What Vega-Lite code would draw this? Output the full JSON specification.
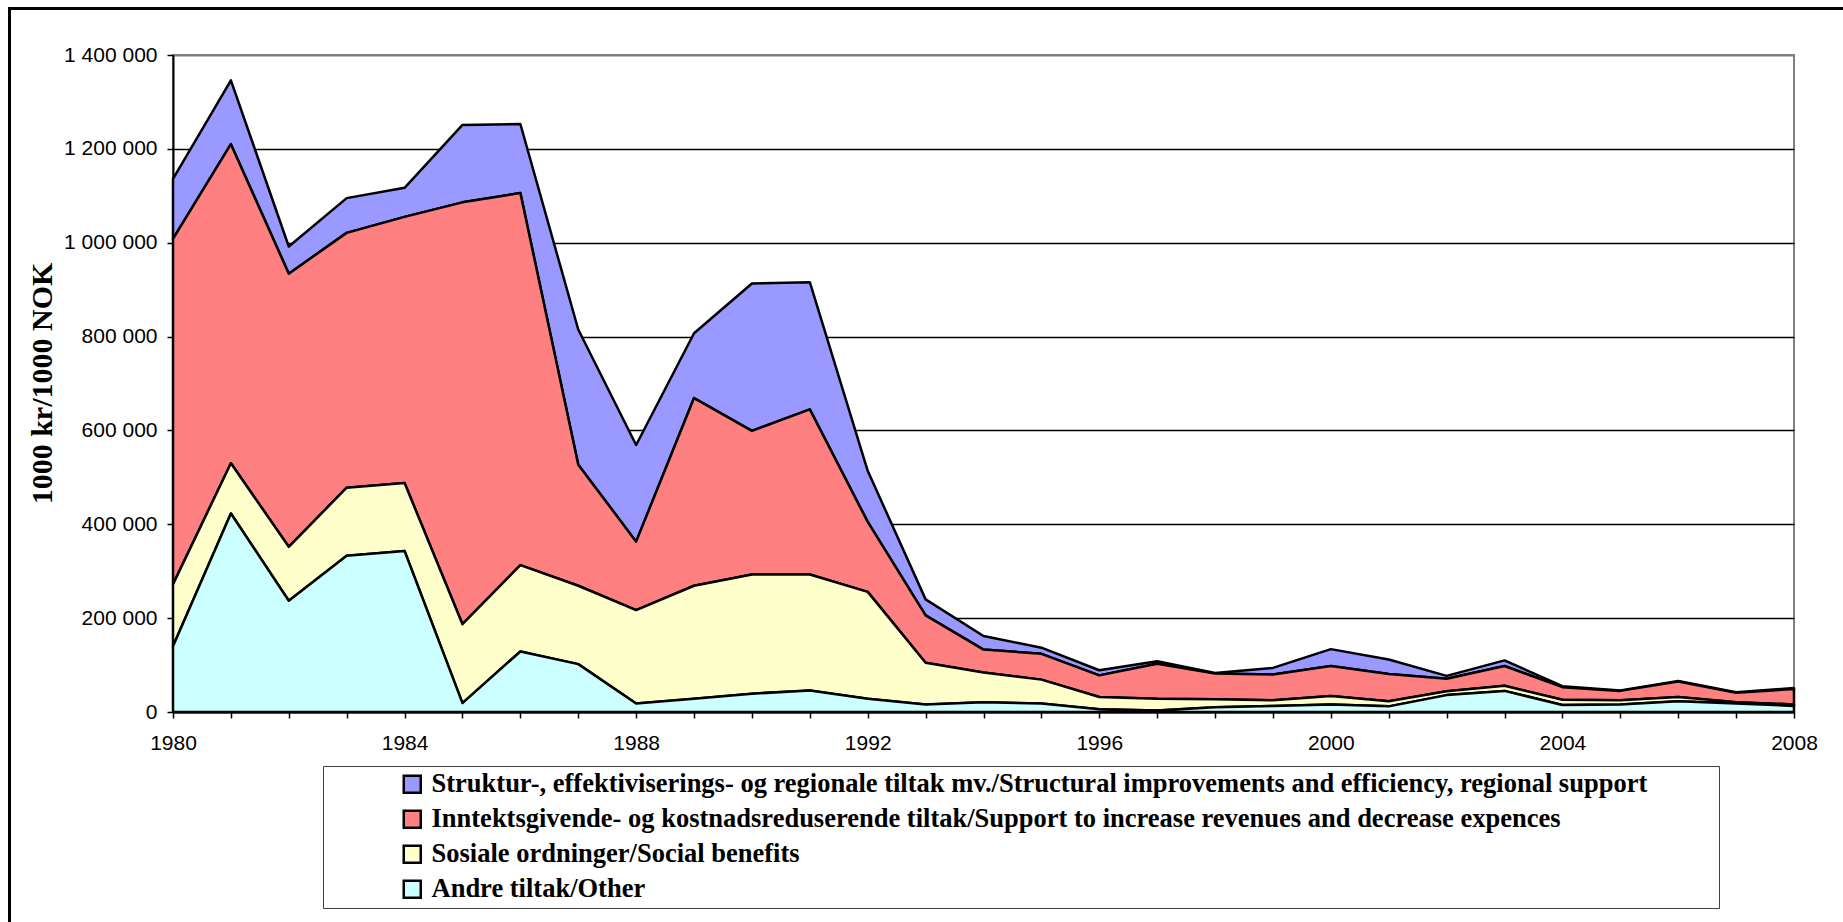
{
  "$schema": "https://vega.github.io/schema/vega-lite/v6.json",
  "width": 1621,
  "height": 657,
  "autosize": "none",
  "padding": {"left": 173, "top": 55, "right": 49, "bottom": 210},
  "background": "white",
  "config": {
    "locale": {"number": {"decimal": ",", "thousands": " ", "grouping": [3], "currency": ["", " kr"]}},
    "view": {"stroke": "#808080", "strokeWidth": 2},
    "axis": {
      "labelFont": "Liberation Sans",
      "labelFontSize": 21,
      "labelColor": "black",
      "domainColor": "black",
      "domainWidth": 2,
      "tickColor": "black",
      "tickWidth": 1.5,
      "tickSize": 6
    }
  },
  "data": {
    "values": [
      {"year": 1980, "other": 140000, "social": 132000, "income": 736000, "struct": 128000},
      {"year": 1981, "other": 423000, "social": 107000, "income": 680000, "struct": 136000},
      {"year": 1982, "other": 237000, "social": 115000, "income": 582000, "struct": 58000},
      {"year": 1983, "other": 333000, "social": 145000, "income": 543000, "struct": 74000},
      {"year": 1984, "other": 343000, "social": 145000, "income": 567000, "struct": 62000},
      {"year": 1985, "other": 19000, "social": 168000, "income": 899000, "struct": 165000},
      {"year": 1986, "other": 129000, "social": 184000, "income": 793000, "struct": 147000},
      {"year": 1987, "other": 102000, "social": 167000, "income": 258000, "struct": 288000},
      {"year": 1988, "other": 18000, "social": 199000, "income": 146000, "struct": 206000},
      {"year": 1989, "other": 28000, "social": 241000, "income": 400000, "struct": 138000},
      {"year": 1990, "other": 39000, "social": 254000, "income": 306000, "struct": 314000},
      {"year": 1991, "other": 46000, "social": 247000, "income": 352000, "struct": 271000},
      {"year": 1992, "other": 28000, "social": 228000, "income": 149000, "struct": 109000},
      {"year": 1993, "other": 16000, "social": 89000, "income": 101000, "struct": 34000},
      {"year": 1994, "other": 21000, "social": 63000, "income": 49000, "struct": 29000},
      {"year": 1995, "other": 18000, "social": 51000, "income": 55000, "struct": 13000},
      {"year": 1996, "other": 6000, "social": 26000, "income": 46000, "struct": 11000},
      {"year": 1997, "other": 3000, "social": 25000, "income": 75000, "struct": 5000},
      {"year": 1998, "other": 10000, "social": 17000, "income": 55000, "struct": 1000},
      {"year": 1999, "other": 13000, "social": 12000, "income": 55000, "struct": 14000},
      {"year": 2000, "other": 16000, "social": 18000, "income": 64000, "struct": 36000},
      {"year": 2001, "other": 12000, "social": 11000, "income": 58000, "struct": 31000},
      {"year": 2002, "other": 36000, "social": 8000, "income": 27000, "struct": 6000},
      {"year": 2003, "other": 45000, "social": 11000, "income": 42000, "struct": 12000},
      {"year": 2004, "other": 15000, "social": 11000, "income": 27000, "struct": 2000},
      {"year": 2005, "other": 16000, "social": 9000, "income": 20000, "struct": 1000},
      {"year": 2006, "other": 23000, "social": 9000, "income": 33000, "struct": 1000},
      {"year": 2007, "other": 18000, "social": 3000, "income": 20000, "struct": 1000},
      {"year": 2008, "other": 13000, "social": 3000, "income": 33000, "struct": 2000}
    ]
  },
  "transform": [
    {"fold": ["struct", "income", "social", "other"], "as": ["serie", "value"]},
    {"calculate": "indexof(['other','social','income','struct'], datum.serie)", "as": "ord"}
  ],
  "layer": [
    {
      "mark": {"type": "area", "stroke": "black", "strokeWidth": 2.5, "strokeJoin": "round", "opacity": 1, "fillOpacity": 1},
      "encoding": {
        "x": {
          "field": "year",
          "type": "quantitative",
          "scale": {"domain": [1980, 2008], "nice": false, "zero": false},
          "axis": {
            "title": null,
            "grid": false,
            "values": [1980,1981,1982,1983,1984,1985,1986,1987,1988,1989,1990,1991,1992,1993,1994,1995,1996,1997,1998,1999,2000,2001,2002,2003,2004,2005,2006,2007,2008],
            "labelExpr": "(datum.value - 1980) % 4 == 0 ? '' + datum.value : ''",
            "labelFlush": false,
            "labelOverlap": false,
            "labelPadding": 14
          }
        },
        "y": {
          "field": "value",
          "type": "quantitative",
          "stack": "zero",
          "scale": {"domain": [0, 1400000], "nice": false},
          "axis": {
            "title": "1000 kr/1000 NOK",
            "titleFont": "Liberation Serif",
            "titleFontWeight": "bold",
            "titleFontSize": 30,
            "titleColor": "black",
            "titleX": -131,
            "titleY": 328,
            "titleBaseline": "middle",
            "values": [0, 200000, 400000, 600000, 800000, 1000000, 1200000, 1400000],
            "format": ",d",
            "labelPadding": 10,
            "grid": true,
            "gridColor": {"condition": {"test": "datum.value == 1400000", "value": "#808080"}, "value": "black"},
            "gridWidth": {"condition": {"test": "datum.value == 1400000", "value": 2}, "value": 1.4}
          }
        },
        "color": {
          "field": "serie",
          "type": "nominal",
          "scale": {
            "domain": ["struct", "income", "social", "other"],
            "range": ["#9999FF", "#FF8080", "#FFFFCC", "#CCFFFF"]
          },
          "legend": {
            "title": null,
            "orient": "none",
            "legendX": 150,
            "legendY": 711,
            "direction": "vertical",
            "labelExpr": "datum.value == 'struct' ? 'Struktur-, effektiviserings- og regionale tiltak mv./Structural improvements and efficiency, regional support\u00a0\u00a0\u00a0\u00a0\u00a0\u00a0\u00a0\u00a0\u00a0\u00a0\u200b' : datum.value == 'income' ? 'Inntektsgivende- og kostnadsreduserende tiltak/Support to increase revenues and decrease expences' : datum.value == 'social' ? 'Sosiale ordninger/Social benefits' : 'Andre tiltak/Other'",
            "labelFont": "Liberation Serif",
            "labelFontWeight": "bold",
            "labelFontSize": 26.5,
            "labelColor": "black",
            "labelLimit": 2000,
            "labelOffset": 6,
            "symbolType": "square",
            "symbolSize": 289,
            "symbolStrokeColor": "black",
            "symbolStrokeWidth": 2.5,
            "symbolOpacity": 1,
            "symbolOffset": 71,
            "rowPadding": 7,
            "padding": 5,
            "strokeColor": "#404040"
          }
        },
        "order": {"field": "ord", "type": "quantitative"}
      }
    },
    {
      "mark": {"type": "point", "opacity": 0, "size": 0},
      "encoding": {
        "color": {
          "field": "value",
          "type": "quantitative",
          "scale": {"range": ["rgba(255,255,255,0)", "rgba(255,255,255,0)"]},
          "legend": {
            "title": null,
            "orient": "none",
            "legendX": -163.5,
            "legendY": -46.5,
            "direction": "horizontal",
            "gradientLength": 1900,
            "gradientThickness": 960,
            "gradientOpacity": 0,
            "gradientStrokeWidth": 0,
            "labelExpr": "''",
            "labelOpacity": 0,
            "padding": 0,
            "strokeColor": "black",
            "encode": {"legend": {"update": {"strokeWidth": {"value": 3}}}}
          }
        }
      }
    }
  ],
  "resolve": {"scale": {"color": "independent"}, "legend": {"color": "independent"}}
}
